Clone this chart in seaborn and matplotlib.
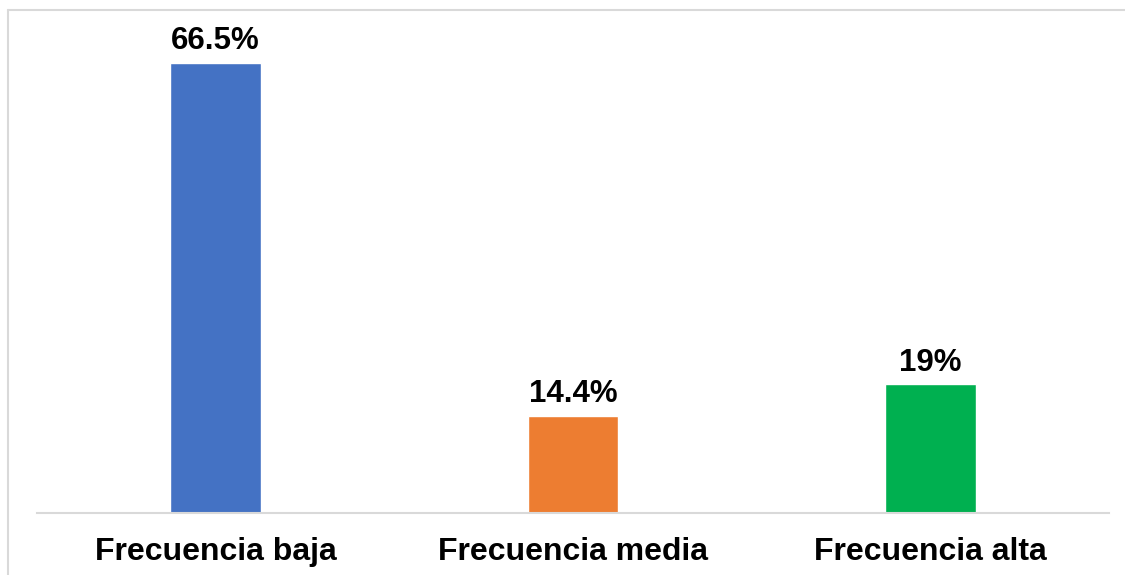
import matplotlib
matplotlib.use("Agg")
import matplotlib.pyplot as plt
import seaborn as sns
import pandas as pd
from matplotlib.lines import Line2D

categories = ["Frecuencia baja", "Frecuencia media", "Frecuencia alta"]
values = [66.5, 14.4, 19.0]
value_labels = ["66.5%", "14.4%", "19%"]
colors = ["#4472C4", "#ED7D31", "#00B050"]

sns.set_theme(style="white")
plt.rcParams["font.family"] = ["Liberation Sans", "DejaVu Sans"]

df = pd.DataFrame({"cat": categories, "val": values})

W, H = 1125, 575
fig = plt.figure(figsize=(W / 100, H / 100), dpi=100)
ax = fig.add_axes([37 / W, (H - 513) / H, (1109 - 37) / W, (513 - 23) / H])

sns.barplot(data=df, x="cat", y="val", hue="cat", palette=colors,
            width=0.253, legend=False, ax=ax, saturation=1)

ax.set_ylim(0, 490 / 6.767)
ax.set_xlim(-0.5, 2.5)
ax.set_xlabel("")
ax.set_ylabel("")
ax.set_yticks([])
for s in ["top", "right", "left"]:
    ax.spines[s].set_visible(False)
ax.spines["bottom"].set_color("#d9d9d9")
ax.spines["bottom"].set_linewidth(1.5)
ax.tick_params(axis="x", length=0, pad=17, labelsize=23)
for lbl in ax.get_xticklabels():
    lbl.set_fontweight("bold")
    lbl.set_color("black")

for i, (v, t) in enumerate(zip(values, value_labels)):
    ax.annotate(t, (i, v), xytext=(0, 10), textcoords="offset points",
                ha="center", va="baseline", fontsize=22.5, fontweight="bold",
                color="black")

# outer chart border (top and left edges visible)
fig.add_artist(Line2D([8 / W, 1], [1 - 10 / H, 1 - 10 / H], color="#d9d9d9",
                      lw=1.5, transform=fig.transFigure))
fig.add_artist(Line2D([8 / W, 8 / W], [0, 1 - 10 / H], color="#d9d9d9",
                      lw=1.5, transform=fig.transFigure))

fig.savefig("out.png", dpi=100, facecolor="white")
